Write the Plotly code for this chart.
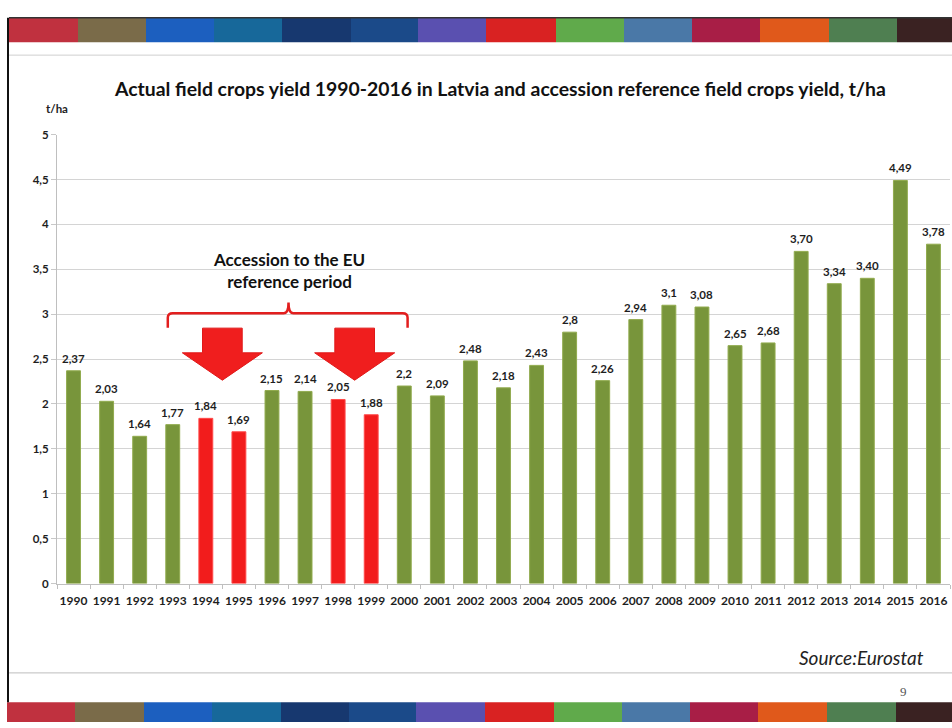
import plotly.graph_objects as go

# Field crops yield in Latvia, t/ha (labels as printed on the bars)
years = list(range(1990, 2017))
labels = ["2,37", "2,03", "1,64", "1,77", "1,84", "1,69", "2,15", "2,14", "2,05",
          "1,88", "2,2", "2,09", "2,48", "2,18", "2,43", "2,8", "2,26", "2,94",
          "3,1", "3,08", "2,65", "2,68", "3,70", "3,34", "3,40", "4,49", "3,78"]
values = [float(s.replace(",", ".")) for s in labels]
reference_years = [1994, 1995, 1998, 1999]
y_ticks = [0, 0.5, 1, 1.5, 2, 2.5, 3, 3.5, 4, 4.5, 5]

W, H = 952, 728
GREEN = "#78953B"
RED = "#F21C1C"


def fx(px):
    return px / W


def fy(py):
    return 1 - py / H


bar_colors = [RED if y in reference_years else GREEN for y in years]
line_colors = ["#FF4A4A" if y in reference_years else "#91AB4E" for y in years]
label_font = dict(family="Lato", size=11.5, color="#1E1E1E", weight=700)

fig = go.Figure()
fig.add_trace(go.Bar(
    x=years, y=values,
    marker=dict(color=bar_colors, line=dict(color=line_colors, width=1)),
    width=0.42,
    hoverinfo="x+y",
))

shapes = []

# Decorative colour strips at the top and bottom of the slide
strip_colors = ["#C0313F", "#7A6B49", "#1C5FBF", "#17689A", "#17386F", "#1B4A89",
                "#5A50B0", "#D92222", "#60AA4B", "#4A78A7", "#A81E46", "#E0591B",
                "#4F7F51", "#3A2222"]
top_edges = [9, 78, 146, 214, 282, 351, 418, 486, 556, 624, 692, 760, 829, 897, 952]
bottom_edges = [7, 75, 144, 212, 281, 349, 416, 485, 554, 622, 690, 758, 827, 896, 952]
for i, c in enumerate(strip_colors):
    shapes.append(dict(type="rect", xref="paper", yref="paper",
                       x0=fx(top_edges[i]), x1=fx(top_edges[i + 1]),
                       y0=fy(36), y1=fy(11), fillcolor=c, line_width=0, layer="above"))
    shapes.append(dict(type="rect", xref="paper", yref="paper",
                       x0=fx(bottom_edges[i]), x1=fx(bottom_edges[i + 1]),
                       y0=fy(728), y1=fy(708), fillcolor=c, line_width=0, layer="above"))

# Slide frame lines
shapes += [
    dict(type="line", xref="paper", yref="paper", x0=fx(9), x1=1, y0=fy(11), y1=fy(11),
         line=dict(color="#333333", width=1.5)),
    dict(type="line", xref="paper", yref="paper", x0=fx(8), x1=fx(8), y0=fy(11), y1=fy(708),
         line=dict(color="#111111", width=2)),
    dict(type="line", xref="paper", yref="paper", x0=fx(9), x1=1, y0=fy(49), y1=fy(49),
         line=dict(color="#CFCFCF", width=1)),
    dict(type="line", xref="paper", yref="paper", x0=fx(9), x1=1, y0=fy(678), y1=fy(678),
         line=dict(color="#BDBDBD", width=1)),
]

# Curly bracket over the reference period (data coordinates)
bx0, bx1, bmid = 1992.85, 2000.1, 1996.5
by, byend, bytop, dx, dy = 3.01, 2.85, 3.13, 0.15, 0.05
bracket = (f"M {bx0},{byend} L {bx0},{by - dy} Q {bx0},{by} {bx0 + dx},{by} "
           f"L {bmid - dx},{by} Q {bmid},{by} {bmid},{bytop} "
           f"Q {bmid},{by} {bmid + dx},{by} L {bx1 - dx},{by} "
           f"Q {bx1},{by} {bx1},{by - dy} L {bx1},{byend}")
shapes.append(dict(type="path", xref="x", yref="y", path=bracket,
                   line=dict(color="#E21E1E", width=2.5)))

# Block arrows pointing at the reference years
for c in [1994.5, 1998.5]:
    sw, hw = 0.6, 1.21
    top, base, tip = 2.845, 2.57, 2.265
    arrow = (f"M {c - sw},{top} L {c + sw},{top} L {c + sw},{base} L {c + hw},{base} "
             f"L {c},{tip} L {c - hw},{base} L {c - sw},{base} Z")
    shapes.append(dict(type="path", xref="x", yref="y", path=arrow,
                       fillcolor="#F01E1E", line=dict(color="#E01818", width=1)))

# Value labels above each bar
annotations = [
    dict(text=lab, x=yr, y=v, xref="x", yref="y", showarrow=False,
         xanchor="center", yanchor="bottom", yshift=4, font=label_font)
    for yr, v, lab in zip(years, values, labels)
]

annotations += [
    dict(text="<b>Actual field crops yield 1990-2016 in Latvia and accession reference field crops yield, t/ha</b>",
         xref="paper", yref="paper", x=fx(500), y=fy(83), showarrow=False,
         font=dict(family="Lato", size=19.4, color="#111111"), xanchor="center", yanchor="middle"),
    dict(text="<b>t/ha</b>", xref="paper", yref="paper", x=fx(57), y=fy(103), showarrow=False,
         font=dict(family="Lato", size=11.5, color="#1E1E1E"), xanchor="center", yanchor="middle"),
    dict(text="<b>Accession to the EU<br>reference period</b>", xref="x", yref="y",
         x=1996.5, y=3.49, showarrow=False, align="center",
         font=dict(family="Lato", size=17, color="#111111"), xanchor="center", yanchor="middle"),
    dict(text="<i>Source:Eurostat</i>", xref="paper", yref="paper", x=fx(926), y=fy(662),
         showarrow=False, font=dict(family="Lato", size=19, color="#222222"),
         xanchor="right", yanchor="middle"),
    dict(text="9", xref="paper", yref="paper", x=fx(903), y=fy(697), showarrow=False,
         font=dict(family="Liberation Serif", size=13, color="#555555"),
         xanchor="center", yanchor="middle"),
]

fig.update_layout(
    width=W, height=H, autosize=False,
    margin=dict(l=0, r=0, t=0, b=0),
    paper_bgcolor="white", plot_bgcolor="white",
    separators=", ",
    showlegend=False,
    shapes=shapes,
    annotations=annotations,
    xaxis=dict(
        domain=[fx(57), fx(950)], range=[1989.5, 2016.5],
        tickvals=years, ticktext=[str(y) for y in years],
        tickfont=dict(family="Lato", size=12, color="#1E1E1E", weight=700),
        ticks="", showgrid=False, showline=True, linecolor="#BFBFBF", linewidth=1,
        minor=dict(tickvals=[y + 0.5 for y in [1989] + years], ticks="outside",
                   ticklen=4, tickcolor="#BFBFBF", showgrid=False),
        ticklabelstandoff=6, fixedrange=True,
    ),
    yaxis=dict(
        domain=[fy(587), fy(130)], range=[0, 5],
        tickvals=y_ticks,
        tickfont=dict(family="Lato", size=11.5, color="#1E1E1E", weight=700),
        ticks="outside", ticklen=5, tickcolor="#C8C8C8",
        showgrid=True, gridcolor="#D4D4D4", gridwidth=1,
        showline=True, linecolor="#BFBFBF", linewidth=1,
        zeroline=False, fixedrange=True,
    ),
)

fig.write_html("out.html")
